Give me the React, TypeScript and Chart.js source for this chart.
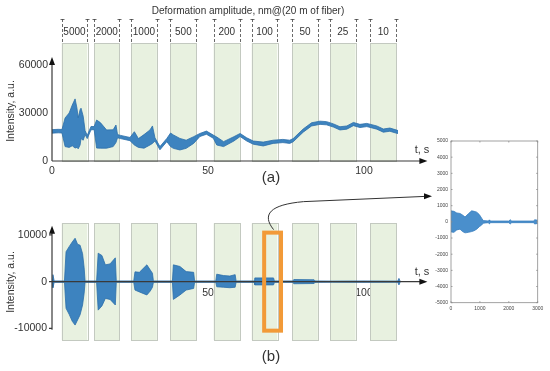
import React, { useEffect, useRef } from 'react';
import { Chart, registerables } from 'chart.js';
Chart.register(...registerables);

const FONT = "'Liberation Sans', Arial, Helvetica, sans-serif";

// Deformation intervals (s) and their amplitudes
const bandStart = [3.1, 13.5, 25.3, 37.9, 51.8, 64.0, 77.0, 89.1, 102.0];
const bandEnd = [11.3, 21.6, 33.6, 46.3, 60.2, 72.2, 85.2, 97.3, 110.4];
const amplitudeLabels = ['5000', '2000', '1000', '500', '200', '100', '50', '25', '10'];

// tick values
const aXTicks = [0, 50, 100];
const aYTicks = [0, 30000, 60000];
const bXTicks = [50, 100];
const bYTicks = [-10000, 0, 10000];
const iXTicks = [0, 1000, 2000, 3000];
const iYTicks = [-5000, -4000, -3000, -2000, -1000, 0, 1000, 2000, 3000, 4000, 5000];

// (a) intensity envelope
const aTime = [0, 2, 3.2, 4.2, 5.5, 6.5, 7.4, 8.0, 8.4, 9.0, 9.3, 10.0, 10.6, 11.3, 12.5, 13.5, 14.3, 15.5, 17.5, 19.6, 20.5, 21.0, 22, 25, 26.4, 27.7, 29.5, 31.4, 32.2, 33.0, 34.6, 36.8, 38.0, 38.9, 41, 43, 45.4, 47.4, 49.5, 51.7, 52.8, 55, 58.3, 60.3, 62.4, 64.5, 67.7, 70.9, 74, 76.2, 77.3, 80.5, 83.2, 85.9, 88, 90.2, 92.3, 94.5, 96.6, 98.7, 100.9, 104.1, 106.2, 108.3, 110.5, 110.9];
const aUpper = [19600, 19800, 19700, 26900, 30000, 35000, 38800, 33000, 27000, 32000, 33000, 28000, 19000, 16000, 21600, 21500, 25600, 24000, 19400, 19500, 22500, 16500, 16000, 14700, 18300, 14000, 16500, 19400, 21900, 14500, 9000, 14100, 17500, 16300, 14100, 13000, 15200, 17200, 18700, 16200, 15000, 12100, 15200, 17200, 14500, 12500, 11800, 13000, 13500, 13000, 14000, 20000, 23900, 24900, 24600, 23200, 21400, 21900, 24100, 22900, 23500, 21900, 20000, 20600, 19300, 19000];
const aLower = [17400, 17600, 17500, 9000, 8500, 9500, 8100, 8500, 7600, 10000, 14000, 13000, 16500, 14000, 19500, 19600, 8100, 8000, 8000, 9000, 11500, 14500, 14000, 12700, 10000, 8500, 8000, 10000, 11000, 12500, 7000, 12100, 9000, 7900, 6900, 7900, 11000, 15300, 16700, 14200, 10000, 9000, 12500, 15300, 12500, 10500, 9400, 11000, 11500, 11000, 12000, 18000, 21900, 22900, 22600, 21200, 19400, 19900, 22100, 20900, 21500, 19900, 18000, 18600, 17300, 17200];

// (b) signal envelope
const bTime = [0, 0.3, 0.7, 4.0, 4.5, 5.5, 6.5, 7.4, 8.2, 9.0, 9.8, 10.3, 10.6, 14.3, 14.8, 16, 17.1, 18.6, 20.3, 20.6, 26.2, 26.6, 28, 30.4, 31.5, 32.2, 32.5, 38.6, 38.9, 41, 43, 45.4, 45.7, 52.5, 52.8, 55, 57, 58.7, 59, 64.8, 65, 71, 71.3, 77.2, 77.5, 84, 84.3, 90, 100, 110.8, 111.2, 111.6];
const bUpper = [150, 1500, 150, 150, 6400, 7500, 8500, 9300, 8000, 7800, 6000, 3000, 150, 150, 6100, 5600, 3600, 3800, 5100, 150, 150, 2100, 2000, 3600, 2500, 1800, 150, 150, 3600, 3250, 2150, 2000, 150, 150, 1600, 1300, 1200, 1500, 150, 150, 800, 800, 150, 150, 450, 400, 150, 120, 150, 120, 700, 100];
const bLower = [-150, -1300, -150, -150, -5700, -7000, -8500, -9300, -8200, -7100, -5000, -2500, -150, -150, -6100, -5200, -3600, -3800, -5000, -150, -150, -1800, -2200, -2850, -2000, -1200, -150, -150, -3800, -2850, -1800, -1450, -150, -150, -1100, -1200, -1300, -1200, -150, -150, -700, -700, -150, -150, -450, -400, -150, -120, -150, -120, -700, -100];

// inset: zoom of the 100 nm interval
const iTime = [0, 100, 200, 311, 400, 485, 600, 715, 800, 890, 980, 1060, 1115, 1300, 1320, 1340, 2000, 2050, 2100, 2850, 2900, 3000];
const iUpper = [680, 650, 550, 520, 420, 300, 500, 680, 650, 600, 450, 230, 80, 50, 120, 50, 50, 130, 50, 50, 130, 100];
const iLower = [-620, -650, -500, -450, -600, -680, -650, -600, -550, -450, -300, -200, -80, -50, -120, -50, -50, -130, -50, -50, -130, -100];

// highlighted window in (b)
const boxT = [68, 73.4];
const boxV = [-10500, 10500];

const BLUE_FILL = '#3d83bf';
const BLUE_LINE = '#2c6ea9';
const GREEN = '#e8f1e0';
const GREEN_EDGE = '#c3c9c0';
const AXIS = '#3a3a3a';

function pts(t: number[], v: number[]) {
  return t.map((x, i) => ({ x, y: v[i] }));
}

function envelope(t: number[], up: number[], lo: number[], fill: string, line: string) {
  return [
    { data: pts(t, up), borderColor: line, borderWidth: 0.8, pointRadius: 0, fill: false },
    { data: pts(t, lo), borderColor: line, borderWidth: 0.8, pointRadius: 0, fill: '-1', backgroundColor: fill },
  ];
}

function arrowHead(ctx: CanvasRenderingContext2D, x: number, y: number, dir: 'up' | 'right', len = 8, half = 3) {
  ctx.beginPath();
  if (dir === 'up') {
    ctx.moveTo(x, y);
    ctx.lineTo(x - half, y + len);
    ctx.lineTo(x + half, y + len);
  } else {
    ctx.moveTo(x, y);
    ctx.lineTo(x - len, y - half);
    ctx.lineTo(x - len, y + half);
  }
  ctx.closePath();
  ctx.fill();
}

function drawBands(chart: any) {
  const { ctx, chartArea, scales } = chart;
  const x = scales.x;
  ctx.save();
  for (let i = 0; i < bandStart.length; i++) {
    const x0 = x.getPixelForValue(bandStart[i]);
    const x1 = x.getPixelForValue(bandEnd[i]);
    ctx.fillStyle = GREEN;
    ctx.fillRect(x0, chartArea.top, x1 - x0, chartArea.bottom - chartArea.top);
    ctx.strokeStyle = GREEN_EDGE;
    ctx.lineWidth = 1;
    ctx.strokeRect(Math.round(x0) + 0.5, Math.round(chartArea.top) + 0.5, Math.round(x1 - x0), Math.round(chartArea.bottom - chartArea.top));
  }
  ctx.restore();
}

function text(ctx: CanvasRenderingContext2D, s: string, x: number, y: number, size: number, color = '#333') {
  ctx.font = `${size}px ${FONT}`;
  ctx.fillStyle = color;
  ctx.textAlign = 'center';
  ctx.textBaseline = 'middle';
  ctx.fillText(s, x, y);
}

function vText(ctx: CanvasRenderingContext2D, s: string, x: number, y: number, size: number, color = '#333') {
  ctx.save();
  ctx.translate(x, y);
  ctx.rotate(-Math.PI / 2);
  text(ctx, s, 0, 0, size, color);
  ctx.restore();
}

const common = (padding: any) => ({
  responsive: false,
  animation: false,
  devicePixelRatio: 1,
  layout: { padding },
  plugins: { legend: { display: false }, tooltip: { enabled: false } },
  elements: { line: { tension: 0 }, point: { radius: 0 } },
});

const tickFont = { family: FONT, size: 10.5 };
const fixedTicks = (arr: number[]) => (s: any) => { s.ticks = arr.map((value) => ({ value })); };
const plain = (v: number) => String(v);

export default function App() {
  const refA = useRef<HTMLCanvasElement>(null);
  const refB = useRef<HTMLCanvasElement>(null);
  const refC = useRef<HTMLCanvasElement>(null);

  useEffect(() => {
    const pluginA = {
      id: 'decorA',
      beforeDatasetsDraw(chart: any) {
        drawBands(chart);
      },
      afterDatasetsDraw(chart: any) {
        const { ctx, scales } = chart;
        const x = scales.x, y = scales.y;
        ctx.save();
        const x0 = x.getPixelForValue(0);
        const y0 = y.getPixelForValue(0);
        const xEnd = x.getPixelForValue(120) + 1;
        const yEnd = y.getPixelForValue(65000);
        ctx.strokeStyle = AXIS;
        ctx.fillStyle = '#111';
        ctx.lineWidth = 1.2;
        ctx.beginPath();
        ctx.moveTo(x0, y0);
        ctx.lineTo(x0, yEnd + 6);
        ctx.moveTo(x0, y0);
        ctx.lineTo(xEnd - 6, y0);
        ctx.stroke();
        arrowHead(ctx, x0, yEnd, 'up');
        arrowHead(ctx, xEnd, y0, 'right');
        // header brackets
        const top = chart.chartArea.top;
        ctx.strokeStyle = '#444';
        ctx.lineWidth = 0.8;
        for (let i = 0; i < bandStart.length; i++) {
          const xs = [x.getPixelForValue(bandStart[i]), x.getPixelForValue(bandEnd[i])];
          ctx.setLineDash([3, 2]);
          ctx.beginPath();
          for (const xx of xs) {
            const px = Math.round(xx) + 0.5;
            ctx.moveTo(px, 19);
            ctx.lineTo(px, top);
          }
          ctx.stroke();
          ctx.setLineDash([]);
          ctx.beginPath();
          for (const xx of xs) {
            const px = Math.round(xx) + 0.5;
            ctx.moveTo(px - 2, 19.5);
            ctx.lineTo(px + 2, 19.5);
          }
          ctx.stroke();
          text(ctx, amplitudeLabels[i], (xs[0] + xs[1]) / 2, 32, 10);
        }
        text(ctx, 'Deformation amplitude, nm@(20 m of fiber)', 248, 11, 10);
        text(ctx, 't, s', 422, 150, 11);
        text(ctx, '(a)', 271, 177.5, 15);
        vText(ctx, 'Intensity, a.u.', 11, 111, 10.5);
        ctx.restore();
      },
    };

    const pluginB = {
      id: 'decorB',
      beforeDatasetsDraw(chart: any) {
        drawBands(chart);
      },
      afterDatasetsDraw(chart: any) {
        const { ctx, scales } = chart;
        const x = scales.x, y = scales.y;
        ctx.save();
        const x0 = x.getPixelForValue(0);
        const y0 = y.getPixelForValue(0);
        const xEnd = x.getPixelForValue(120) + 1;
        const yEnd = y.getPixelForValue(12000);
        const yBot = y.getPixelForValue(-10300);
        ctx.strokeStyle = AXIS;
        ctx.fillStyle = '#111';
        ctx.lineWidth = 1.2;
        ctx.beginPath();
        ctx.moveTo(x0, yBot);
        ctx.lineTo(x0, yEnd + 6);
        ctx.moveTo(x0, y0);
        ctx.lineTo(xEnd - 6, y0);
        ctx.stroke();
        arrowHead(ctx, x0, yEnd, 'up');
        arrowHead(ctx, xEnd, y0, 'right');
        ctx.beginPath();
        for (const v of bYTicks) {
          const py = y.getPixelForValue(v);
          ctx.moveTo(x0 - 3, py);
          ctx.lineTo(x0, py);
        }
        ctx.stroke();
        // orange highlight
        const bx0 = x.getPixelForValue(boxT[0]);
        const bx1 = x.getPixelForValue(boxT[1]);
        const by0 = y.getPixelForValue(boxV[1]);
        const by1 = y.getPixelForValue(boxV[0]);
        ctx.strokeStyle = '#f29a38';
        ctx.lineWidth = 4;
        ctx.strokeRect(bx0, by0, bx1 - bx0, by1 - by0);
        // connector
        const cx = (bx0 + bx1) / 2 + 1;
        ctx.strokeStyle = '#333';
        ctx.lineWidth = 1;
        ctx.beginPath();
        ctx.moveTo(cx, by0 - 3);
        ctx.bezierCurveTo(cx - 12, by0 - 18, cx - 4, by0 - 28, cx + 30, by0 - 31);
        ctx.lineTo(425, 196.4);
        ctx.stroke();
        ctx.fillStyle = '#111';
        arrowHead(ctx, 432, 196.3, 'right', 8, 3);
        text(ctx, 't, s', 422, 271.5, 11);
        text(ctx, '(b)', 271, 357, 15);
        vText(ctx, 'Intensity, a.u.', 11, 282, 10.5);
        ctx.restore();
      },
    };

    const pluginC = {
      id: 'decorC',
      afterDatasetsDraw(chart: any) {
        const { ctx, chartArea, scales } = chart;
        ctx.save();
        ctx.strokeStyle = '#8a8a8a';
        ctx.lineWidth = 0.8;
        ctx.strokeRect(chartArea.left, chartArea.top, chartArea.right - chartArea.left, chartArea.bottom - chartArea.top);
        ctx.beginPath();
        for (const v of iYTicks) {
          const py = scales.y.getPixelForValue(v);
          ctx.moveTo(chartArea.left, py);
          ctx.lineTo(chartArea.left + 1.5, py);
          ctx.moveTo(chartArea.right, py);
          ctx.lineTo(chartArea.right - 1.5, py);
        }
        for (const v of iXTicks) {
          const px = scales.x.getPixelForValue(v);
          ctx.moveTo(px, chartArea.bottom);
          ctx.lineTo(px, chartArea.bottom - 1.5);
          ctx.moveTo(px, chartArea.top);
          ctx.lineTo(px, chartArea.top + 1.5);
        }
        ctx.stroke();
        ctx.restore();
      },
    };

    const chartA = new Chart(refA.current!, {
      type: 'line',
      data: { datasets: envelope(aTime, aUpper, aLower, BLUE_FILL, BLUE_LINE) as any },
      options: {
        ...common({ left: 5, top: 43, right: 123.6, bottom: 190 }),
        scales: {
          x: {
            type: 'linear', min: 0, max: 120,
            grid: { display: false, drawTicks: false },
            border: { display: false },
            afterBuildTicks: fixedTicks(aXTicks),
            ticks: { font: tickFont, color: '#333', padding: 4, maxRotation: 0, callback: plain },
            afterFit: (s: any) => { s.height = 20; },
          },
          y: {
            min: 0, max: 73750,
            grid: { display: false, drawTicks: false },
            border: { display: false },
            afterBuildTicks: fixedTicks(aYTicks),
            ticks: { font: tickFont, color: '#333', padding: 4, callback: plain },
            afterFit: (s: any) => { s.width = 47; },
          },
        },
      } as any,
      plugins: [pluginA],
    });

    const chartB = new Chart(refB.current!, {
      type: 'line',
      data: { datasets: envelope(bTime, bUpper, bLower, BLUE_FILL, BLUE_LINE) as any },
      options: {
        ...common({ left: 5, top: 223.3, right: 123.6, bottom: 31 }),
        scales: {
          x: {
            type: 'linear', min: 0, max: 120, position: { y: 0 },
            grid: { display: false, drawTicks: false },
            border: { display: false },
            afterBuildTicks: fixedTicks(bXTicks),
            ticks: { font: tickFont, color: '#333', padding: 5, maxRotation: 0, callback: plain },
          },
          y: {
            min: -12500, max: 12500,
            grid: { display: false, drawTicks: false },
            border: { display: false },
            afterBuildTicks: fixedTicks(bYTicks),
            ticks: { font: tickFont, color: '#333', padding: 5, callback: plain },
            afterFit: (s: any) => { s.width = 47; },
          },
        },
      } as any,
      plugins: [pluginB],
    });

    const smallFont = { family: FONT, size: 5 };
    const chartC = new Chart(refC.current!, {
      type: 'line',
      data: { datasets: envelope(iTime, iUpper, iLower, '#4a8fcc', '#3a7fbf') as any },
      options: {
        ...common({ left: 431, top: 141, right: 12.3, bottom: 58.3 }),
        scales: {
          x: {
            type: 'linear', min: 0, max: 3000,
            grid: { display: false, drawTicks: false },
            border: { display: false },
            afterBuildTicks: fixedTicks(iXTicks),
            ticks: { font: smallFont, color: '#444', padding: 3, maxRotation: 0, callback: plain },
            afterFit: (s: any) => { s.height = 10; },
          },
          y: {
            min: -5000, max: 5000,
            grid: { display: false, drawTicks: false },
            border: { display: false },
            afterBuildTicks: fixedTicks(iYTicks),
            ticks: { font: smallFont, color: '#444', padding: 3, callback: plain },
            afterFit: (s: any) => { s.width = 20; },
          },
        },
      } as any,
      plugins: [pluginC],
    });

    return () => {
      chartA.destroy();
      chartB.destroy();
      chartC.destroy();
    };
  }, []);

  const cs: React.CSSProperties = { position: 'absolute', left: 0, top: 0, width: 550, height: 371 };
  return (
    <div style={{ position: 'absolute', left: 0, top: 0, width: 550, height: 371, background: '#fff', overflow: 'hidden' }}>
      <canvas ref={refA} width={550} height={371} style={cs} />
      <canvas ref={refB} width={550} height={371} style={cs} />
      <canvas ref={refC} width={550} height={371} style={cs} />
    </div>
  );
}
